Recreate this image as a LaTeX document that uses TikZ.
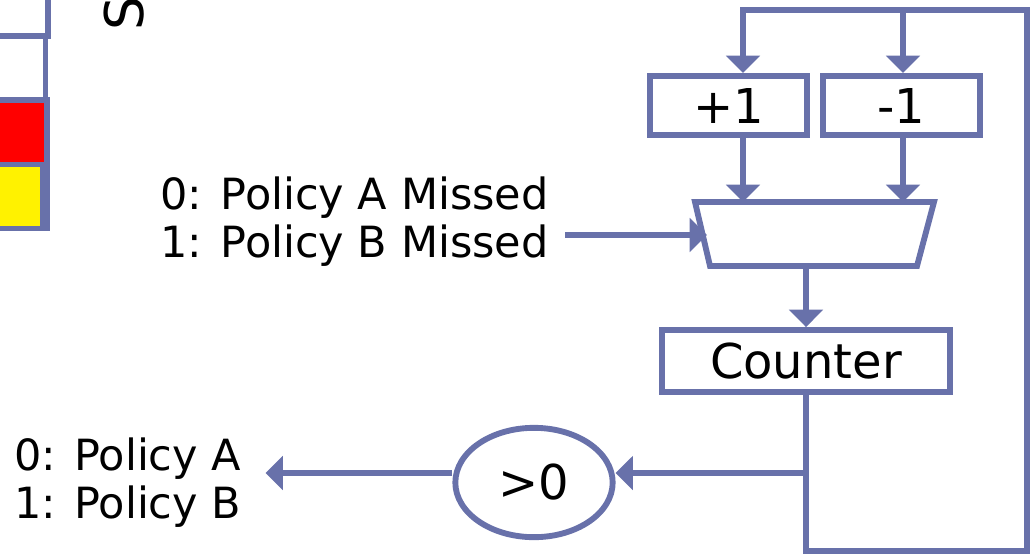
\documentclass[tikz,border=0pt]{standalone}
\usepackage{fontspec}
\setmainfont{DejaVu Sans}
\usepackage{tikz}
\usetikzlibrary{calc}
\usetikzlibrary{shapes}
\usetikzlibrary{arrows.meta}
\definecolor{wirecol}{RGB}{104,113,170}
\newcommand{\cellbox}[5]{ \draw[wirecol, line width=4.4pt, fill=#5] ( #1 , #2 ) rectangle ( #3 , #4 );}
\tikzset{
  wire/.style={draw=wirecol, line width=4.4pt},
  feed/.style={wire, -{Triangle[width=25pt,length=13pt]}},
  blockbox/.style={draw=wirecol, line width=4.4pt, rectangle, inner sep=0pt, font=\fontsize{36pt}{40pt}\selectfont},
  sidetext/.style={align=left, inner ysep=0pt, font=\fontsize{32.25pt}{36pt}\selectfont},
}

\begin{document}
\begin{tikzpicture}[x=0.75pt, y=-0.75pt]
        \useasboundingbox (0,0) rectangle (1030,554);
        % left column
        \cellbox{-10}{-10}{48}{36}{white}
        \cellbox{-10}{36}{45.5}{100}{white}
        \cellbox{-10}{100}{47}{164.5}{red}
        \cellbox{-10}{164.5}{47.5}{228.5}{yellow}
        \cellbox{-10}{164.5}{42.5}{228.5}{yellow}
        \node[rotate=90, anchor=base west, inner sep=0pt, font=\fontsize{40pt}{44pt}\selectfont] (title) at (143,31) {S};
        % blocks
        \node[blockbox, minimum width=118pt, minimum height=44.5pt] (plus) at (728.5,105.5) {+1};
        \node[blockbox, minimum width=118pt, minimum height=44.5pt] (minus) at (901.5,105.5) {-1};
        \node[blockbox, minimum width=216pt, minimum height=46.5pt] (counter) at (806,361) {Counter};
        \node[blockbox, ellipse, minimum width=118pt, minimum height=82pt] (gt) at (534,482.5) {>0};
        % mux
        \coordinate (mux-tl) at (695,202);
        \coordinate (mux-tr) at (934,202);
        \coordinate (mux-br) at (917,266);
        \coordinate (mux-bl) at (710,266);
        \coordinate (mux-in) at (707,235);
        \coordinate (mux-out) at (806,266);
        \draw[wire] (mux-tl) -- (mux-tr) -- (mux-br) -- (mux-bl) -- cycle;
        % texts
        \node[sidetext, anchor=east, inner xsep=12pt] (missed) at (565,221.7) {0: Policy A Missed\\1: Policy B Missed};
        \node[sidetext, anchor=west, inner xsep=18pt] (policy) at (-10,482.7) {0: Policy A\\1: Policy B};
        % loop
        \coordinate (loop-bl) at (806,551);
        \coordinate (loop-br) at (1027,551);
        \coordinate (loop-tr) at (1027,10);
        \coordinate (plus-in) at (743,10);
        \coordinate (minus-in) at (903,10);
        \coordinate (tap) at (806,473);
        \draw[feed] (counter.south) -- (loop-bl) -- (loop-br) -- (loop-tr) -- (plus-in) -- (plus-in |- plus.north);
        \draw[feed] (minus-in) -- (minus-in |- minus.north);
        \draw[feed] (plus-in |- plus.south) -- (plus-in |- mux-tl);
        \draw[feed] (minus-in |- minus.south) -- (minus-in |- mux-tr);
        \draw[feed] (missed.east |- mux-in) -- (mux-in);
        \draw[feed] (mux-out) -- (counter.north);
        \draw[feed] (tap) -- (tap -| gt.east);
        \draw[feed] (gt.west |- tap) -- (tap -| policy.east);

    \end{tikzpicture}
\end{document}
